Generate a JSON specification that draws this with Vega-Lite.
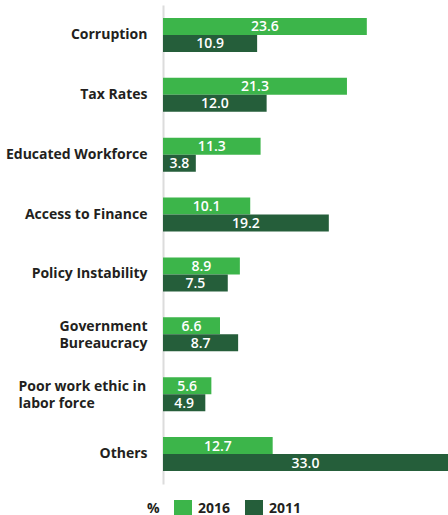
{
  "$schema": "https://vega.github.io/schema/vega-lite/v6.json",
  "width": 285,
  "height": 479,
  "autosize": "none",
  "padding": {"left": 163, "top": 5, "right": 0, "bottom": 31},
  "data": {"values": [
    {"category": "Corruption", "year": "2016", "value": 23.6},
    {"category": "Corruption", "year": "2011", "value": 10.9},
    {"category": "Tax Rates", "year": "2016", "value": 21.3},
    {"category": "Tax Rates", "year": "2011", "value": 12.0},
    {"category": "Educated Workforce", "year": "2016", "value": 11.3},
    {"category": "Educated Workforce", "year": "2011", "value": 3.8},
    {"category": "Access to Finance", "year": "2016", "value": 10.1},
    {"category": "Access to Finance", "year": "2011", "value": 19.2},
    {"category": "Policy Instability", "year": "2016", "value": 8.9},
    {"category": "Policy Instability", "year": "2011", "value": 7.5},
    {"category": "Government|Bureaucracy", "year": "2016", "value": 6.6},
    {"category": "Government|Bureaucracy", "year": "2011", "value": 8.7},
    {"category": "Poor work ethic in|labor force", "year": "2016", "value": 5.6},
    {"category": "Poor work ethic in|labor force", "year": "2011", "value": 4.9},
    {"category": "Others", "year": "2016", "value": 12.7},
    {"category": "Others", "year": "2011", "value": 33.0}
  ]},
  "encoding": {
    "y": {
      "field": "category", "type": "nominal", "sort": null,
      "scale": {"paddingInner": 0.433, "paddingOuter": 0.2167},
      "axis": {
        "title": null, "ticks": false, "domain": true, "domainColor": "#dcdcdc", "domainWidth": 2,
        "labelExpr": "split(datum.label, '|')",
        "labelFont": "Open Sans", "labelFontSize": 14, "labelFontWeight": "bold", "labelColor": "#231f20",
        "labelAlign": {"expr": "datum.value == 'Poor work ethic in|labor force' ? 'left' : 'right'"},
        "labelPadding": {"expr": "datum.value == 'Poor work ethic in|labor force' ? 145 : 16"},
        "labelOffset": {"expr": "indexof(datum.value, '|') >= 0 ? -7 : 0"},
        "labelLimit": 0, "labelLineHeight": 17
      }
    },
    "yOffset": {"field": "year", "type": "nominal", "sort": ["2016", "2011"], "scale": {"paddingInner": 0, "paddingOuter": 0}},
    "x": {"field": "value", "type": "quantitative", "scale": {"domain": [0, 33], "nice": false, "zero": true}, "axis": null}
  },
  "layer": [
    {
      "mark": {"type": "bar"},
      "encoding": {
        "color": {
          "field": "year", "type": "nominal", "sort": ["2016", "2011"],
          "scale": {"domain": ["2016", "2011"], "range": ["#3cb54a", "#255e3a"]},
          "legend": {
            "title": "%", "orient": "none", "direction": "horizontal", "titleOrient": "left",
            "legendX": -16, "legendY": 495, "symbolType": "square", "symbolSize": 324,
            "symbolStrokeWidth": 0, "titlePadding": 14, "labelOffset": 6, "columnPadding": 14,
            "labelLimit": 0,
            "titleFont": "Open Sans", "titleFontSize": 14, "titleFontWeight": "bold", "titleColor": "#231f20",
            "labelFont": "Open Sans", "labelFontSize": 14, "labelFontWeight": "bold", "labelColor": "#231f20"
          }
        }
      }
    },
    {
      "transform": [{"calculate": "datum.value / 2", "as": "label_x"}],
      "mark": {"type": "text", "color": "white", "font": "Open Sans", "fontSize": 14, "fontWeight": 600, "align": "center", "baseline": "middle", "dy": 1},
      "encoding": {
        "x": {"field": "label_x", "type": "quantitative"},
        "text": {"field": "value", "type": "quantitative", "format": ".1f"}
      }
    }
  ],
  "config": {"view": {"stroke": null}}
}
